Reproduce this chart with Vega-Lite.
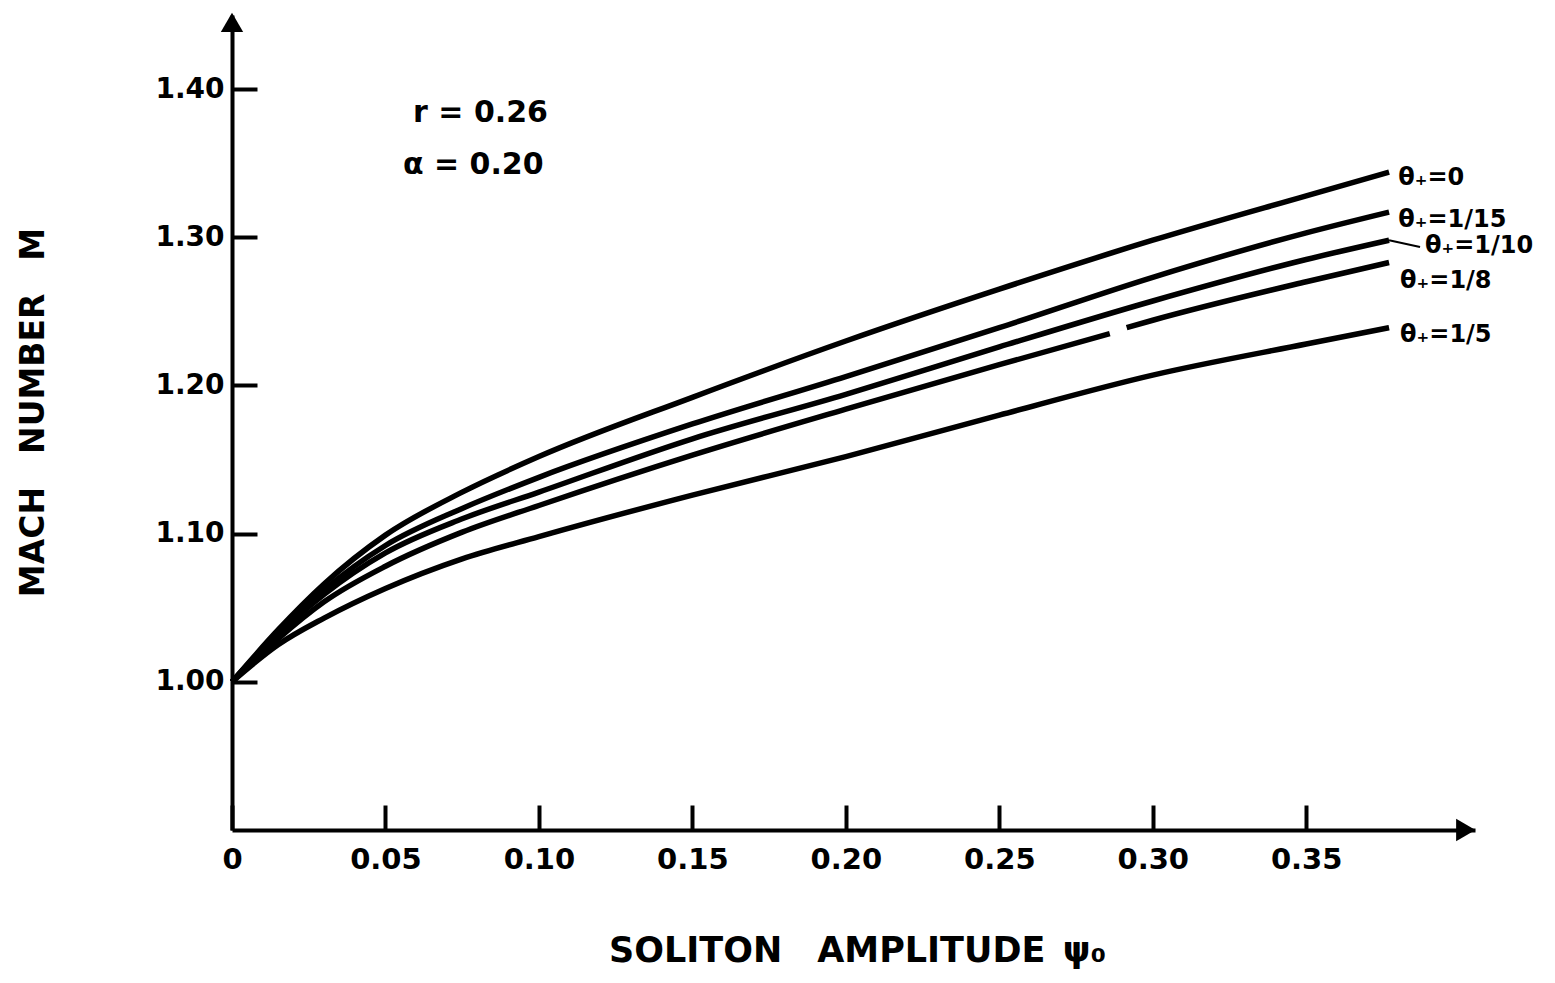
{
  "$schema": "https://vega.github.io/schema/vega-lite/v6.json",
  "width": 1243,
  "height": 815,
  "autosize": "none",
  "padding": {"left": 232, "top": 15, "right": 80, "bottom": 153},
  "background": "white",
  "config": {"view": {"stroke": null}, "font": "DejaVu Sans"},
  "datasets": {
    "curves": [
      {"theta": "0", "psi": 0, "M": 1.0}, {"theta": "0", "psi": 0.015, "M": 1.035}, {"theta": "0", "psi": 0.03, "M": 1.066}, {"theta": "0", "psi": 0.05, "M": 1.099}, {"theta": "0", "psi": 0.075, "M": 1.128}, {"theta": "0", "psi": 0.1, "M": 1.152}, {"theta": "0", "psi": 0.15, "M": 1.192}, {"theta": "0", "psi": 0.2, "M": 1.23}, {"theta": "0", "psi": 0.25, "M": 1.265}, {"theta": "0", "psi": 0.3, "M": 1.298}, {"theta": "0", "psi": 0.35, "M": 1.328}, {"theta": "0", "psi": 0.377, "M": 1.344},
      {"theta": "1/15", "psi": 0, "M": 1.0}, {"theta": "1/15", "psi": 0.015, "M": 1.033}, {"theta": "1/15", "psi": 0.03, "M": 1.062}, {"theta": "1/15", "psi": 0.05, "M": 1.092}, {"theta": "1/15", "psi": 0.075, "M": 1.117}, {"theta": "1/15", "psi": 0.1, "M": 1.138}, {"theta": "1/15", "psi": 0.15, "M": 1.174}, {"theta": "1/15", "psi": 0.2, "M": 1.206}, {"theta": "1/15", "psi": 0.25, "M": 1.239}, {"theta": "1/15", "psi": 0.3, "M": 1.273}, {"theta": "1/15", "psi": 0.35, "M": 1.303}, {"theta": "1/15", "psi": 0.377, "M": 1.317},
      {"theta": "1/10", "psi": 0, "M": 1.0}, {"theta": "1/10", "psi": 0.015, "M": 1.032}, {"theta": "1/10", "psi": 0.03, "M": 1.059}, {"theta": "1/10", "psi": 0.05, "M": 1.087}, {"theta": "1/10", "psi": 0.075, "M": 1.11}, {"theta": "1/10", "psi": 0.1, "M": 1.128}, {"theta": "1/10", "psi": 0.15, "M": 1.164}, {"theta": "1/10", "psi": 0.2, "M": 1.194}, {"theta": "1/10", "psi": 0.25, "M": 1.226}, {"theta": "1/10", "psi": 0.3, "M": 1.257}, {"theta": "1/10", "psi": 0.35, "M": 1.285}, {"theta": "1/10", "psi": 0.377, "M": 1.298},
      {"theta": "1/8a", "psi": 0, "M": 1.0}, {"theta": "1/8a", "psi": 0.015, "M": 1.029}, {"theta": "1/8a", "psi": 0.03, "M": 1.054}, {"theta": "1/8a", "psi": 0.05, "M": 1.078}, {"theta": "1/8a", "psi": 0.075, "M": 1.101}, {"theta": "1/8a", "psi": 0.1, "M": 1.119}, {"theta": "1/8a", "psi": 0.15, "M": 1.153}, {"theta": "1/8a", "psi": 0.2, "M": 1.184}, {"theta": "1/8a", "psi": 0.25, "M": 1.214}, {"theta": "1/8a", "psi": 0.286, "M": 1.235},
      {"theta": "1/8b", "psi": 0.2915, "M": 1.239}, {"theta": "1/8b", "psi": 0.3, "M": 1.244}, {"theta": "1/8b", "psi": 0.35, "M": 1.27}, {"theta": "1/8b", "psi": 0.377, "M": 1.283},
      {"theta": "1/5", "psi": 0, "M": 1.0}, {"theta": "1/5", "psi": 0.015, "M": 1.025}, {"theta": "1/5", "psi": 0.03, "M": 1.043}, {"theta": "1/5", "psi": 0.05, "M": 1.063}, {"theta": "1/5", "psi": 0.075, "M": 1.083}, {"theta": "1/5", "psi": 0.1, "M": 1.098}, {"theta": "1/5", "psi": 0.15, "M": 1.126}, {"theta": "1/5", "psi": 0.2, "M": 1.152}, {"theta": "1/5", "psi": 0.25, "M": 1.18}, {"theta": "1/5", "psi": 0.3, "M": 1.207}, {"theta": "1/5", "psi": 0.35, "M": 1.228}, {"theta": "1/5", "psi": 0.377, "M": 1.239}
    ],
    "labels": [
      {"label": "θ₊=0", "psi": 0.38, "M": 1.34},
      {"label": "θ₊=1/15", "psi": 0.38, "M": 1.3117},
      {"label": "θ₊=1/10", "psi": 0.3887, "M": 1.2941},
      {"label": "θ₊=1/8", "psi": 0.3806, "M": 1.2705},
      {"label": "θ₊=1/5", "psi": 0.3806, "M": 1.2341}
    ],
    "leader": [
      {"psi": 0.377, "M": 1.298},
      {"psi": 0.3871, "M": 1.2934}
    ],
    "notes": [
      {"note": "r = 0.26", "psi": 0.059, "M": 1.384},
      {"note": "α = 0.20", "psi": 0.0557, "M": 1.349}
    ],
    "xarrow": [{"psi": 0.402, "M": 0.9}],
    "yarrow": [{"psi": 0, "M": 1.445}]
  },
  "encoding": {
    "x": {
      "field": "psi", "type": "quantitative",
      "scale": {"domain": [0, 0.405], "nice": false, "zero": false},
      "axis": {
        "values": [0, 0.05, 0.1, 0.15, 0.2, 0.25, 0.3, 0.35],
        "labelExpr": "datum.value == 0 ? '0' : format(datum.value, '.2f')",
        "title": "SOLITON\u2003AMPLITUDE\u2002ψ₀",
        "grid": false,
        "domainWidth": 4, "domainColor": "black",
        "tickColor": "black", "tickWidth": 4, "tickSize": -25,
        "labelPadding": 40,
        "labelFont": "DejaVu Sans", "labelFontSize": 29, "labelFontWeight": "bold", "labelColor": "black",
        "labelFlush": false, "labelOverlap": false,
        "titleFont": "DejaVu Sans", "titleFontSize": 35, "titleFontWeight": "bold", "titleColor": "black",
        "titleX": 625, "titleY": 120, "titleBaseline": "middle", "titleAlign": "center"
      }
    },
    "y": {
      "field": "M", "type": "quantitative",
      "scale": {"domain": [0.9, 1.45], "nice": false, "zero": false},
      "axis": {
        "values": [1.0, 1.1, 1.2, 1.3, 1.4],
        "format": ".2f",
        "title": "MACH\u2003NUMBER\u2003M",
        "grid": false,
        "domainWidth": 4, "domainColor": "black",
        "tickColor": "black", "tickWidth": 4, "tickSize": -25,
        "labelPadding": 33,
        "labelFont": "DejaVu Sans", "labelFontSize": 28, "labelFontWeight": "bold", "labelColor": "black",
        "labelFlush": false, "labelOverlap": false,
        "titleFont": "DejaVu Sans", "titleFontSize": 33, "titleFontWeight": "bold", "titleColor": "black",
        "titleX": -199, "titleY": 397, "titleBaseline": "middle", "titleAlign": "center", "titleAngle": -90
      }
    }
  },
  "layer": [
    {
      "data": {"name": "curves"},
      "mark": {"type": "line", "interpolate": "monotone", "strokeWidth": 5.5, "color": "black", "clip": false},
      "encoding": {"detail": {"field": "theta", "type": "nominal"}}
    },
    {
      "data": {"name": "leader"},
      "mark": {"type": "line", "strokeWidth": 2, "color": "black"},
      "encoding": {}
    },
    {
      "data": {"name": "labels"},
      "mark": {"type": "text", "align": "left", "baseline": "middle", "font": "DejaVu Sans", "fontSize": 24, "fontWeight": "bold", "color": "black"},
      "encoding": {"text": {"field": "label"}}
    },
    {
      "data": {"name": "notes"},
      "mark": {"type": "text", "align": "left", "baseline": "middle", "font": "DejaVu Sans", "fontSize": 30, "fontWeight": "bold", "color": "black"},
      "encoding": {"text": {"field": "note"}}
    },
    {
      "data": {"name": "xarrow"},
      "mark": {"type": "point", "shape": "triangle-right", "filled": true, "size": 500, "color": "black", "opacity": 1, "clip": false},
      "encoding": {}
    },
    {
      "data": {"name": "yarrow"},
      "mark": {"type": "point", "shape": "triangle-up", "filled": true, "size": 500, "color": "black", "opacity": 1, "clip": false},
      "encoding": {}
    }
  ]
}
